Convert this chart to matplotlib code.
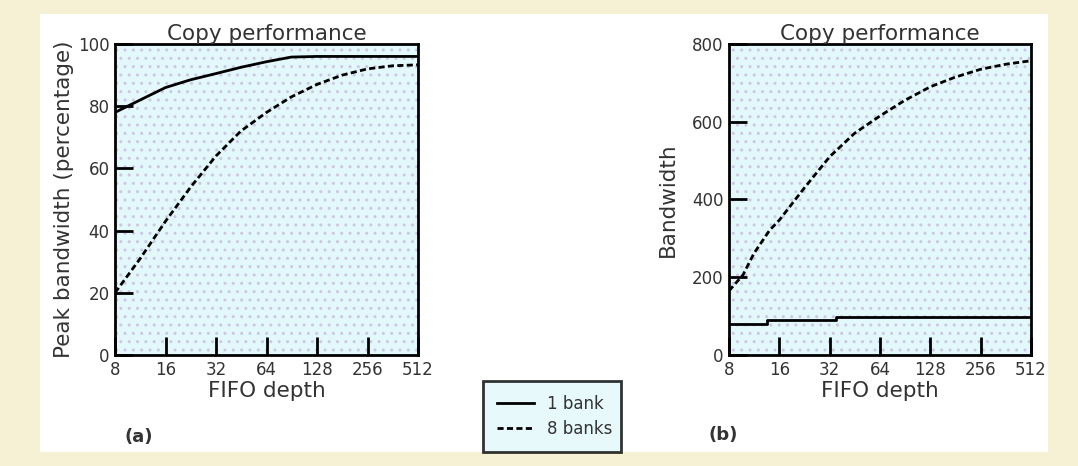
import matplotlib.pyplot as plt
from matplotlib.patches import Rectangle
from matplotlib.lines import Line2D

# FIFO depth values used on the x axis
depth_ticks = [8, 16, 32, 64, 128, 256, 512]
depth_labels = ['8', '16', '32', '64', '128', '256', '512']

# (a) peak bandwidth in percent
depth_a = [8, 11.3, 16, 22.6, 32, 45, 64, 90, 128, 181, 256, 362, 512]
pct_1bank = [78, 82, 86, 88.5, 90.5, 92.5, 94.3, 95.8, 96, 96, 96, 96, 96]
pct_8banks = [20, 31, 43, 54, 64, 72, 78, 83, 87, 90, 92, 93, 93.3]

# (b) bandwidth
depth_b = [8, 9.7, 11.3, 14, 16, 22.6, 32, 45, 64, 90, 128, 181, 256, 362, 512]
bw_8banks = [165, 206, 262, 321, 347, 430, 510, 570, 615, 655, 690, 715, 735, 748, 757]
depth_b1 = [8, 13.5, 35, 512]
bw_1bank = [80, 90, 97, 97]

plt.rcParams['font.family'] = ['DejaVu Sans']
fig = plt.figure(figsize=(10.78, 4.66), dpi=100, facecolor='#f6f0d4')
fig.patches.append(Rectangle((40 / 1078, 14 / 466), 1008 / 1078, 438 / 466,
                             transform=fig.transFigure, facecolor='white',
                             edgecolor='none', zorder=-5))

ax1 = fig.add_axes([115 / 1078, 111 / 466, 303 / 1078, 311 / 466])
ax2 = fig.add_axes([729 / 1078, 111 / 466, 302 / 1078, 311 / 466])

dash = (0, (2.2, 1.2))
for ax in (ax1, ax2):
    ax.set_facecolor('#e2f8fb')
    ax.add_patch(Rectangle((0, 0), 1, 1, transform=ax.transAxes, facecolor='none',
                           edgecolor='#cdc6e4', hatch='..', linewidth=0, zorder=0))
    ax.set_xscale('log', base=2)
    ax.set_xlim(8, 512)
    ax.set_xticks(depth_ticks)
    ax.set_xticklabels(depth_labels)
    ax.minorticks_off()
    ax.tick_params(direction='in', length=13, width=2, labelsize=12,
                   labelcolor='#333333', pad=4)
    for s in ax.spines.values():
        s.set_linewidth(2)
    ax.set_title('Copy performance', fontsize=15.5, color='#333333', pad=3)
    ax.set_xlabel('FIFO depth', fontsize=15.5, color='#333333', labelpad=2)

ax1.plot(depth_a, pct_1bank, color='black', lw=2)
ax1.plot(depth_a, pct_8banks, color='black', lw=2, linestyle=dash)
ax1.set_ylim(0, 100)
ax1.set_yticks([0, 20, 40, 60, 80, 100])
ax1.set_ylabel('Peak bandwidth (percentage)', fontsize=15.5, color='#333333', labelpad=3)

ax2.plot(depth_b1, bw_1bank, color='black', lw=2, drawstyle='steps-post')
ax2.plot(depth_b, bw_8banks, color='black', lw=2, linestyle=dash)
ax2.set_ylim(0, 800)
ax2.set_yticks([0, 200, 400, 600, 800])
ax2.set_ylabel('Bandwidth', fontsize=15.5, color='#333333', labelpad=10)

fig.text(125 / 1078, 1 - 437 / 466, '(a)', fontsize=13, color='#333333',
         fontweight='bold', va='center')
fig.text(708 / 1078, 1 - 435 / 466, '(b)', fontsize=13, color='#333333',
         fontweight='bold', va='center')

handles = [Line2D([], [], color='black', lw=2),
           Line2D([], [], color='black', lw=2, linestyle=dash)]
leg = fig.legend(handles, ['1 bank', '8 banks'], loc='lower left',
                 bbox_to_anchor=(483 / 1078, 14 / 466, 138 / 1078, 70 / 466),
                 mode='expand', fontsize=12, frameon=True, fancybox=False,
                 handlelength=2.2, borderaxespad=0, labelspacing=0.4, borderpad=0.85)
leg.get_frame().set_edgecolor('black')
leg.get_frame().set_linewidth(2)
leg.get_frame().set_facecolor('#e2f8fb')
for t in leg.get_texts():
    t.set_color('#333333')

fig.savefig('out.png', dpi=100, facecolor=fig.get_facecolor())
